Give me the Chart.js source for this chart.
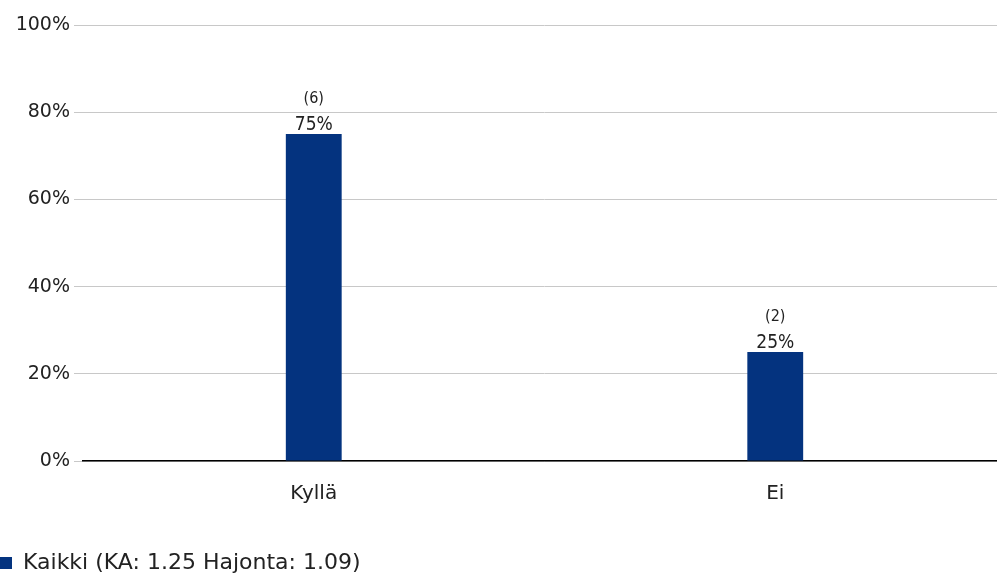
<!DOCTYPE html>
<html>
<head>
<meta charset="utf-8">
<script src="https://cdn.jsdelivr.net/npm/chart.js@4/dist/chart.umd.min.js"></script>
<style>
  html, body { margin: 0; padding: 0; background: #fff; overflow: hidden; }
  #wrap { width: 1006px; height: 573px; position: relative; }
</style>
</head>
<body>
<div id="wrap"><canvas id="chart"></canvas></div>
<script>
const categories = ['Kyllä', 'Ei'];
const percents = [75, 25];
const counts = [6, 2];
const yMax = 100;
const yStep = 20;
const seriesLabel = 'Kaikki (KA: 1.25 Hajonta: 1.09)';

const barColor = '#04337f';
const textColor = '#222';

// percent + count labels above each bar
const valueLabels = {
  id: 'valueLabels',
  afterDatasetsDraw(chart) {
    const { ctx } = chart;
    const meta = chart.getDatasetMeta(0);
    ctx.save();
    ctx.fillStyle = textColor;
    ctx.textAlign = 'center';
    ctx.textBaseline = 'alphabetic';
    meta.data.forEach((bar, i) => {
      ctx.font = '19px "DejaVu Sans Condensed", "DejaVu Sans", sans-serif';
      ctx.fillText(percents[i] + '%', bar.x, bar.y - 4);
      ctx.font = '16px "DejaVu Sans Condensed", "DejaVu Sans", sans-serif';
      ctx.fillText('(' + counts[i] + ')', bar.x, bar.y - 31);
    });
    ctx.restore();
  }
};

new Chart(document.getElementById('chart'), {
  type: 'bar',
  data: {
    labels: categories,
    datasets: [{
      label: seriesLabel,
      data: percents,
      backgroundColor: barColor,
      borderWidth: 0,
      barPercentage: 0.121,
      categoryPercentage: 1
    }]
  },
  options: {
    responsive: true,
    maintainAspectRatio: false,
    animation: false,
    layout: { padding: { top: 25, left: 0, right: 0, bottom: -11 } },
    plugins: {
      tooltip: { enabled: false },
      legend: {
        position: 'bottom',
        align: 'start',
        labels: {
          boxWidth: 12,
          boxHeight: 12,
          padding: 0,
          color: textColor,
          font: { family: '"DejaVu Sans", sans-serif', size: 22 }
        }
      }
    },
    scales: {
      x: {
        grid: { display: false },
        border: { display: true, color: '#000', width: 1.5 },
        ticks: { color: textColor, padding: 13, font: { family: '"DejaVu Sans", sans-serif', size: 20 } },
        afterFit(scale) { scale.height = 91; }
      },
      y: {
        min: 0,
        max: yMax,
        border: { display: false },
        grid: { color: '#c8c8c8', tickLength: 9, lineWidth: 1 },
        ticks: {
          stepSize: yStep,
          color: textColor,
          padding: 4,
          font: { family: '"DejaVu Sans", sans-serif', size: 19 },
          callback: v => v + '%'
        },
        afterFit(scale) { scale.width = 83; }
      }
    }
  },
  plugins: [valueLabels]
});
</script>
</body>
</html>
